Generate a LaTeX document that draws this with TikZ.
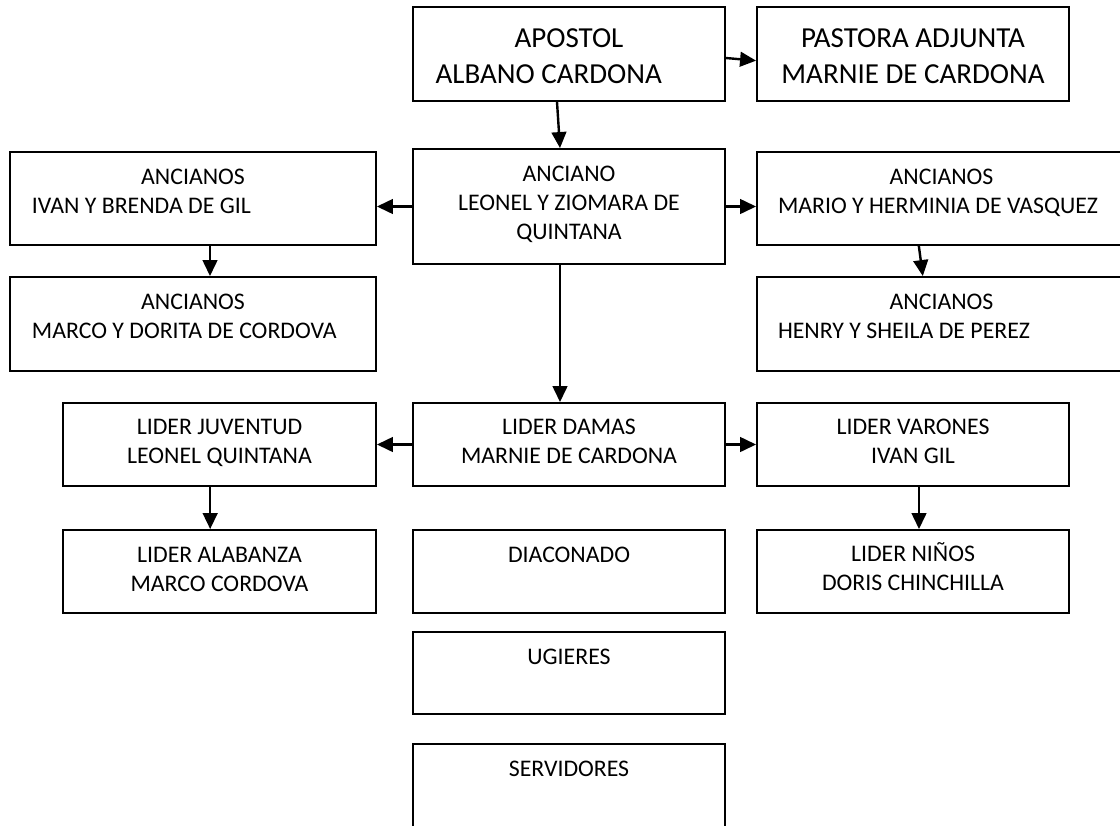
\documentclass[tikz,border=0pt]{standalone}
\usepackage{fontspec}
\setmainfont{Carlito}
\usetikzlibrary{arrows.meta, calc, fit}

\begin{document}
\begin{tikzpicture}[line cap=round,line join=round,>={Triangle[length=12pt,width=11pt]},x=0.75pt,y=-0.75pt,
  caja/.style={draw, line width=1.4pt, inner sep=0pt, line join=miter},
  texto/.style={anchor=north, inner sep=0pt, align=center, font=\fontsize{17.85}{21.75}\selectfont},
  grande/.style={font=\fontsize{21.75}{27}\selectfont},
  flecha/.style={->, line width=1.8pt}]
\useasboundingbox (0,0) rectangle (1120,825);
\clip (0,0) rectangle (1120,825);

% cajas
\node[caja, fit={(413,7) (725,101)}] (apostol) {};
\node[caja, fit={(757,7) (1069,101)}] (pastora) {};

\node[caja, fit={(413,149) (725,264)}] (anciano) {};
\node[caja, fit={(10,152) (376,245)}] (ivan) {};
\node[caja, fit={(757,152) (1126,245)}] (mario) {};
\node[caja, fit={(10,277) (376,371)}] (marco) {};
\node[caja, fit={(757,277) (1126,371)}] (henry) {};

\node[caja, fit={(63,403) (376,486)}] (juventud) {};
\node[caja, fit={(413,403) (725,486)}] (damas) {};
\node[caja, fit={(757,403) (1069,486)}] (varones) {};

\node[caja, fit={(63,530) (376,613)}] (alabanza) {};
\node[caja, fit={(413,530) (725,613)}] (diaconado) {};
\node[caja, fit={(757,530) (1069,613)}] (ninos) {};

\node[caja, fit={(413,632) (725,714)}] (ugieres) {};
\node[caja, fit={(413,744) (725,850)}] (servidores) {};

% textos
\node[texto, grande, text width=234pt] (apostol-t) at ($(apostol.north)+(0,22)$)
  {APOSTOL\\ \hspace*{17pt}\mbox{\spaceskip=0pt ALBANO CARDONA}\hfill\null};
\node[texto, grande] (pastora-t) at ($(pastora.north)+(0,22)$) {PASTORA ADJUNTA\\MARNIE DE CARDONA};

\node[texto] (anciano-t) at ($(anciano.north)+(0,18)$) {ANCIANO\\LEONEL Y ZIOMARA DE\\QUINTANA};
\node[texto, text width=274.5pt] (ivan-t) at ($(ivan.north)+(0,18)$)
  {ANCIANOS\\ \hspace*{16.5pt}\mbox{\spaceskip=0pt IVAN Y BRENDA DE GIL}\hfill\null};
\node[texto, text width=276.75pt] (mario-t) at ($(mario.north)+(0,18)$)
  {ANCIANOS\\ \hspace*{15.75pt}\mbox{\spaceskip=0pt MARIO Y HERMINIA DE VASQUEZ}\hfill\null};
\node[texto, text width=274.5pt] (marco-t) at ($(marco.north)+(0,18)$)
  {ANCIANOS\\ \hspace*{16.5pt}\mbox{\spaceskip=0pt MARCO Y DORITA DE CORDOVA}\hfill\null};
\node[texto, text width=276.75pt] (henry-t) at ($(henry.north)+(0,18)$)
  {ANCIANOS\\ \hspace*{15.75pt}\mbox{\spaceskip=0pt HENRY Y SHEILA DE PEREZ}\hfill\null};

\node[texto] (juventud-t) at ($(juventud.north)+(0,17)$) {LIDER JUVENTUD\\LEONEL QUINTANA};
\node[texto] (damas-t) at ($(damas.north)+(0,17)$) {LIDER DAMAS\\MARNIE DE CARDONA};
\node[texto] (varones-t) at ($(varones.north)+(0,17)$) {LIDER VARONES\\IVAN GIL};

\node[texto] (alabanza-t) at ($(alabanza.north)+(0,18)$) {LIDER ALABANZA\\MARCO CORDOVA};
\node[texto] (diaconado-t) at ($(diaconado.north)+(0,18)$) {DIACONADO};
\node[texto] (ninos-t) at ($(ninos.north)+(0,13)$) {LIDER NIÑOS\\DORIS CHINCHILLA};

\node[texto] (ugieres-t) at ($(ugieres.north)+(0,18)$) {UGIERES};
\node[texto] (servidores-t) at ($(servidores.north)+(0,18)$) {SERVIDORES};

% flechas
\draw[flecha] ([yshift=-3pt]apostol.east) -- ([yshift=-5pt]pastora.west);
\draw[flecha] ([xshift=-9pt]apostol.south) -- ([xshift=-6.75pt]anciano.north);

\draw[flecha] (anciano.west) -- (anciano.west -| ivan.east);
\draw[flecha] (anciano.east) -- (anciano.east -| mario.west);
\draw[flecha] ([xshift=12.75pt]ivan.south) -- ([xshift=12.75pt]marco.north);
\draw[flecha] ([xshift=-17pt]mario.south) -- ([xshift=-14pt]henry.north);
\draw[flecha] ([xshift=-6.75pt]anciano.south) -- ([xshift=-6.75pt]damas.north);

\draw[flecha] (damas.west) -- (damas.west -| juventud.east);
\draw[flecha] (damas.east) -- (damas.east -| varones.west);
\draw[flecha] ([xshift=-7pt]juventud.south) -- ([xshift=-7pt]alabanza.north);
\draw[flecha] ([xshift=4.5pt]varones.south) -- ([xshift=4.5pt]ninos.north);

\end{tikzpicture}
\end{document}
